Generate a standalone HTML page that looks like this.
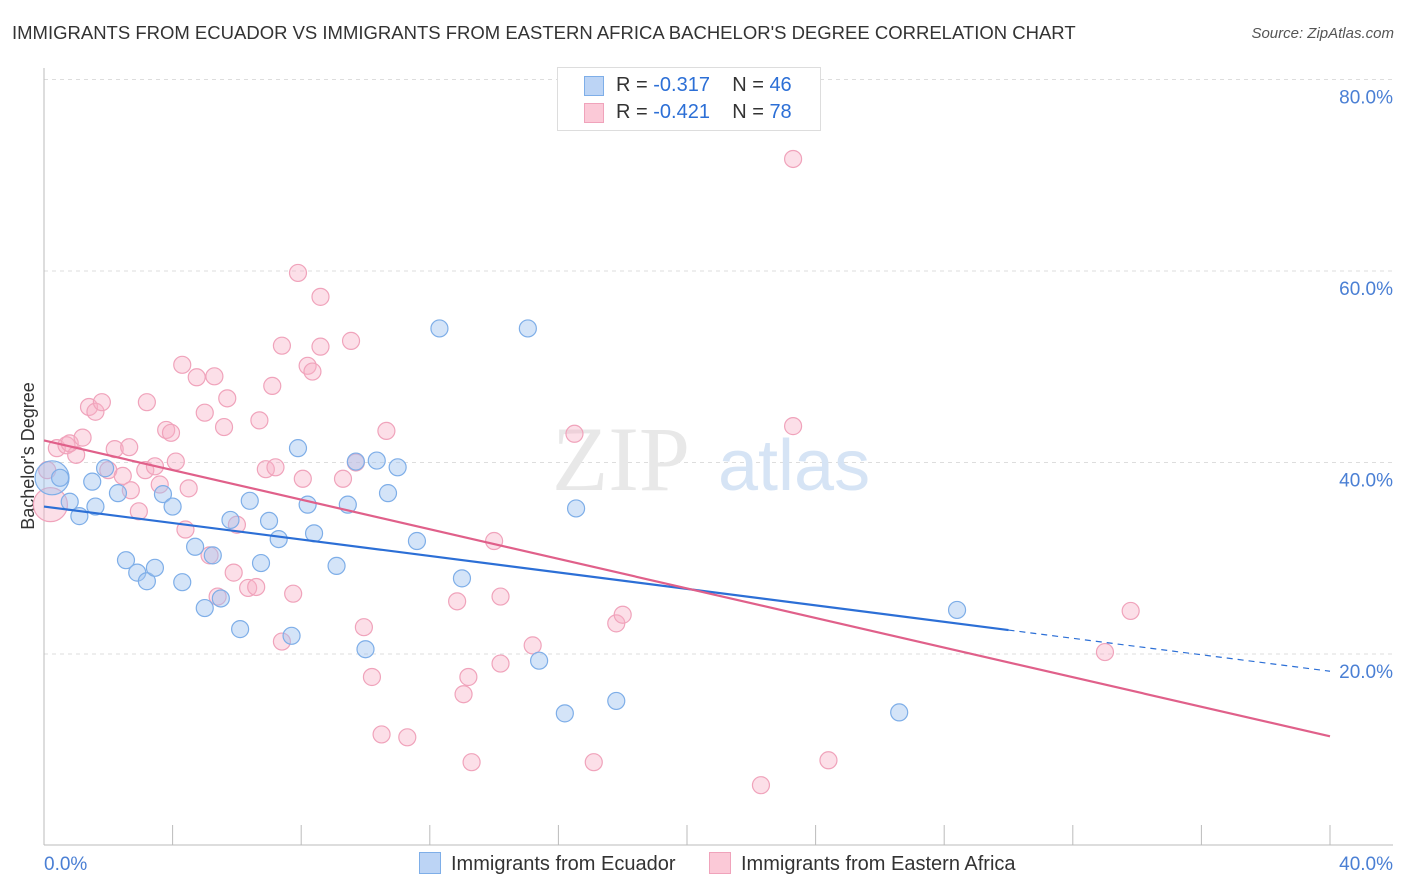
<!DOCTYPE html>
<html><head><meta charset="utf-8">
<style>
body{margin:0;background:#fff;font-family:"Liberation Sans",sans-serif;}
#wrap{position:relative;width:1406px;height:892px;overflow:hidden;}
.t{position:absolute;white-space:nowrap;}
</style></head>
<body>
<div id="wrap">
<div class="t" style="left:12px;top:22px;font-size:18.5px;color:#333;">IMMIGRANTS FROM ECUADOR VS IMMIGRANTS FROM EASTERN AFRICA BACHELOR'S DEGREE CORRELATION CHART</div>
<div class="t" style="right:12px;top:25px;font-size:15px;color:#555;font-style:italic;">Source: ZipAtlas.com</div>
<svg id="svg" width="1406" height="892" style="position:absolute;left:0;top:0"></svg>
</div>
<script>
const xTicks=[0,40];
const yTicks=[20,40,60,80];
const blueX=[0.25,0.5,0.8,1.1,1.5,1.6,1.9,2.3,2.55,2.9,3.2,3.45,3.7,4.0,4.3,4.7,5.0,5.25,5.5,6.1,5.8,6.4,6.75,7.0,7.3,7.7,7.9,8.2,8.4,9.1,9.45,9.7,10.0,10.35,10.7,11.0,11.6,12.3,13.0,15.05,15.4,16.2,16.55,17.8,26.6,28.4];
const blueY=[38.4,38.4,35.9,34.4,38.0,35.4,39.4,36.8,29.8,28.5,27.6,29.0,36.7,35.4,27.5,31.2,24.8,30.3,25.8,22.6,34.0,36.0,29.5,33.9,32.0,21.9,41.5,35.6,32.6,29.2,35.6,40.1,20.5,40.2,36.8,39.5,31.8,54.0,27.9,54.0,19.3,13.8,35.2,15.1,13.9,24.6];
const pinkX=[0.2,0.4,0.7,1.0,0.8,1.2,1.4,1.6,1.8,2.0,2.2,2.45,2.65,2.7,2.95,3.2,3.15,3.45,3.6,3.8,3.95,4.1,4.3,4.4,4.5,4.75,5.0,5.15,5.3,5.4,5.6,5.7,5.9,6.0,6.35,6.6,6.7,6.9,7.1,7.2,7.4,7.75,7.9,8.05,8.2,8.35,8.6,8.6,9.3,9.55,9.7,9.95,10.2,10.5,10.65,11.3,12.85,13.05,13.2,13.3,14.0,14.2,14.2,15.2,16.5,17.1,17.8,18.0,22.3,23.3,23.3,24.4,33.0,33.8,7.4,0.1];
const pinkY=[35.6,41.5,41.8,40.8,42.0,42.6,45.8,45.3,46.3,39.2,41.4,38.6,41.6,37.1,34.9,46.3,39.2,39.6,37.7,43.4,43.1,40.1,50.2,33.0,37.3,48.9,45.2,30.3,49.0,26.0,43.7,46.7,28.5,33.5,26.9,27.0,44.4,39.3,48.0,39.5,52.2,26.3,59.8,38.3,50.1,49.5,57.3,52.1,38.3,52.7,40.0,22.8,17.6,11.6,43.3,11.3,25.5,15.8,17.6,8.7,31.8,26.0,19.0,20.9,43.0,8.7,23.2,24.1,6.3,71.7,43.8,8.9,20.2,24.5,21.3,39.2];
const blueTrend=[35.4,18.2];
const pinkTrend=[42.3,11.4];
const blueSolidEnd=30.0;

const X=v=>44+v/40*1286;
const Y=v=>654-(v-20)*9.575;
const svg=document.getElementById('svg');
const NS='http://www.w3.org/2000/svg';
function mk(tag,attrs,parent){const e=document.createElementNS(NS,tag);for(const k in attrs)e.setAttribute(k,attrs[k]);(parent||svg).appendChild(e);return e;}

yTicks.forEach(v=>{
  const g=mk('line',{x1:44,x2:1393,y1:Y(v),y2:Y(v),stroke:'#ddd','stroke-dasharray':'4,4'});
  
  
  const t=mk('text',{x:1393,y:Y(v)+24,'text-anchor':'end','font-size':19,fill:'#4a7fd4','font-family':'Liberation Sans'});
  t.textContent=v.toFixed(1)+'%';
  
  
});
const ax=mk('line',{x1:44,x2:44,y1:68,y2:845,stroke:'#bbb'});


const bx=mk('line',{x1:44,x2:1393,y1:845,y2:845,stroke:'#bbb'});


for(let i=0;i<=10;i++){
  const tk=mk('line',{x1:X(i*4),x2:X(i*4),y1:825,y2:845,stroke:'#bbb'});
  
  
}
xTicks.forEach((v,i)=>{
  const t=mk('text',{x:i==0?44:1393,y:870,'text-anchor':i==0?'start':'end','font-size':19,fill:'#4a7fd4','font-family':'Liberation Sans'});
  t.textContent=v.toFixed(1)+'%';
  
  
});
const yt=mk('text',{x:34,y:456,'text-anchor':'middle','font-size':18,fill:'#333',transform:'rotate(-90 34 456)','font-family':'Liberation Sans'});
yt.textContent="Bachelor's Degree";


const wm=mk('text',{x:552,y:490,'font-size':92,fill:'#e8e8e8','font-family':'Liberation Serif'});
wm.textContent='ZIP';


const wm2=mk('text',{x:718,y:490,'font-size':72,fill:'#d6e4f5','font-family':'Liberation Sans'});
wm2.textContent='atlas';



function pts(xs,ys,fill,stroke,name){
  xs.forEach((x,i)=>{
    const c=mk('circle',{cx:X(x),cy:Y(ys[i]),r:i==0?17:8.5,fill:fill,stroke:stroke,'stroke-width':1.2});
    
    
  });
}
pts(pinkX,pinkY,'rgba(248,176,198,0.4)','#f0a3bb','point-eastern-africa');
pts(blueX,blueY,'rgba(160,196,240,0.45)','#7eaee8','point-ecuador');

const ly=(t,x)=>t[0]+(t[1]-t[0])*x/40;
const bl=mk('line',{x1:X(0),y1:Y(ly(blueTrend,0)),x2:X(blueSolidEnd),y2:Y(ly(blueTrend,blueSolidEnd)),stroke:'#2c6fd6','stroke-width':2.2});


const bd=mk('line',{x1:X(blueSolidEnd),y1:Y(ly(blueTrend,blueSolidEnd)),x2:X(40),y2:Y(ly(blueTrend,40)),stroke:'#2c6fd6','stroke-width':1.2,'stroke-dasharray':'6,5'});


const pl=mk('line',{x1:X(0),y1:Y(ly(pinkTrend,0)),x2:X(40),y2:Y(ly(pinkTrend,40)),stroke:'#e0608a','stroke-width':2.2});


</script>

<div class="t" style="left:557px;top:67px;width:262px;height:62px;border:1px solid #ddd;background:#fff;font-size:20px;color:#333;">
  <div style="position:absolute;left:26px;top:8px;width:18px;height:18px;background:#bcd4f5;border:1px solid #7eaee8;"></div>
  <div style="position:absolute;left:58px;top:6px;">R = <span style="color:#2c6fd6">-0.317</span>&nbsp;&nbsp;&nbsp; N = <span style="color:#2c6fd6">46</span></div>
  <div style="position:absolute;left:26px;top:35px;width:18px;height:18px;background:#fbc9d7;border:1px solid #f0a3bb;"></div>
  <div style="position:absolute;left:58px;top:33px;">R = <span style="color:#2c6fd6">-0.421</span>&nbsp;&nbsp;&nbsp; N = <span style="color:#2c6fd6">78</span></div>
</div>
<div class="t" style="left:419px;top:852px;font-size:20px;color:#333;">
  <span style="display:inline-block;width:20px;height:20px;background:#bcd4f5;border:1px solid #7eaee8;vertical-align:-4px;margin-right:10px;"></span>Immigrants from Ecuador</div>
<div class="t" style="left:709px;top:852px;font-size:20px;color:#333;">
  <span style="display:inline-block;width:20px;height:20px;background:#fbc9d7;border:1px solid #f0a3bb;vertical-align:-4px;margin-right:10px;"></span>Immigrants from Eastern Africa</div>
</body></html>
